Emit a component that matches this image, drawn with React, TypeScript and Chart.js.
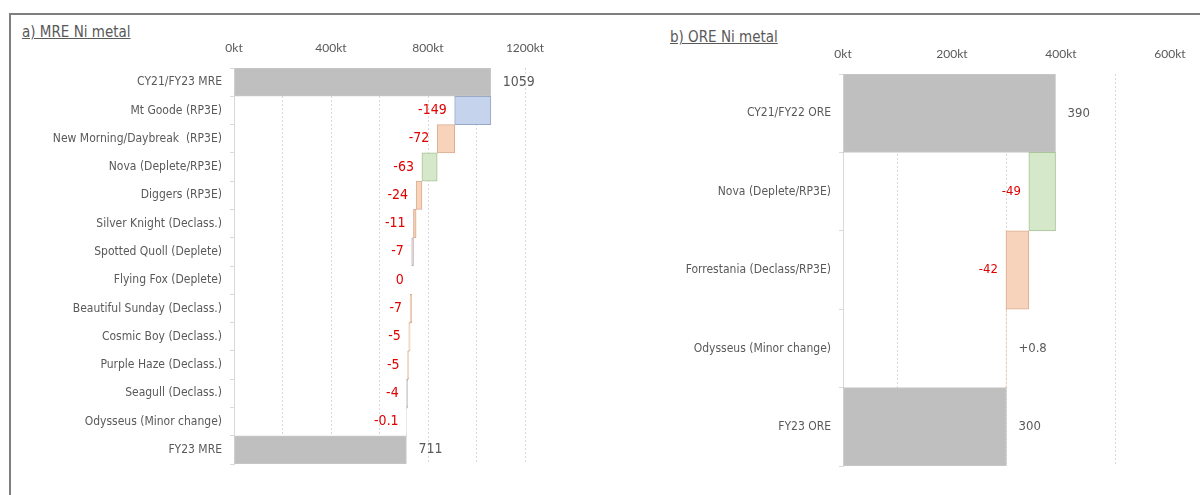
import React, { useEffect, useRef } from 'react';
import { Chart, registerables } from 'chart.js';

Chart.register(...registerables);

// ---------- Data: a) MRE Ni metal ----------
const mreCategories = [
  'CY21/FY23 MRE',
  'Mt Goode (RP3E)',
  'New Morning/Daybreak  (RP3E)',
  'Nova (Deplete/RP3E)',
  'Diggers (RP3E)',
  'Silver Knight (Declass.)',
  'Spotted Quoll (Deplete)',
  'Flying Fox (Deplete)',
  'Beautiful Sunday (Declass.)',
  'Cosmic Boy (Declass.)',
  'Purple Haze (Declass.)',
  'Seagull (Declass.)',
  'Odysseus (Minor change)',
  'FY23 MRE',
];
const mreOpening = 1059;
const mreChanges = [-149, -72, -63, -24, -11, -7, 0, -7, -5, -5, -4, -0.1];
const mreClosing = 711;
const mreChangeLabels = ['-149', '-72', '-63', '-24', '-11', '-7', '0', '-7', '-5', '-5', '-4', '-0.1'];
const mreTotalLabels = ['1059', '711'];
const mreChangeColors = ['blue', 'peach', 'green', 'peach', 'peach', 'greyPink', 'peach', 'peach', 'peach', 'peach', 'grey', 'grey'];
const mreTickValues = [0, 200, 400, 600, 800, 1000, 1200];
const mreTickLabels = ['0kt', '', '400kt', '', '800kt', '', '1200kt'];
const mreGridValues = [200, 400, 600, 800, 1000, 1200];

// ---------- Data: b) ORE Ni metal ----------
const oreCategories = [
  'CY21/FY22 ORE',
  'Nova (Deplete/RP3E)',
  'Forrestania (Declass/RP3E)',
  'Odysseus (Minor change)',
  'FY23 ORE',
];
const oreOpening = 390;
const oreChanges = [-49, -42, 0.8];
const oreClosing = 300;
const oreChangeLabels = ['-49', '-42', '+0.8'];
const oreTotalLabels = ['390', '300'];
const oreChangeColors = ['green', 'peach', 'peach'];
const oreTickValues = [0, 100, 200, 300, 400, 500, 600];
const oreTickLabels = ['0kt', '', '200kt', '', '400kt', '', '600kt'];
const oreGridValues = [100, 300, 500];

// ---------- Styles ----------
const NARROW = '"Liberation Sans Narrow", "Arial Narrow", "DejaVu Sans Condensed", sans-serif';
const TICKFONT = 'Lato, "Open Sans", sans-serif';
const GREY_TEXT = '#595959';
const RED_TEXT = '#e00000';
const PALETTE: Record<string, { fill: string; border: string }> = {
  total: { fill: '#bfbfbf', border: '#c9c9c9' },
  blue: { fill: '#c5d3ed', border: '#98a9c8' },
  peach: { fill: '#f8d3bb', border: '#d9ae92' },
  green: { fill: '#d5e8c9', border: '#a9c39a' },
  grey: { fill: '#d0cccc', border: '#a8a4a4' },
  greyPink: { fill: '#e0cccc', border: '#b8a4a8' },
};

type LabelItem = { text: string; color: string; side: 'left' | 'right' };

function buildWaterfall(opening: number, changes: number[], closing: number, changeLabels: string[], totalLabels: string[], changeColors: string[]) {
  const data: [number, number][] = [[0, opening]];
  const fills = [PALETTE.total.fill];
  const borders = [PALETTE.total.border];
  const labels: LabelItem[] = [{ text: totalLabels[0], color: GREY_TEXT, side: 'right' }];
  let level = opening;
  changes.forEach((c, i) => {
    const next = level + c;
    data.push([level, next]);
    fills.push(PALETTE[changeColors[i]].fill);
    borders.push(PALETTE[changeColors[i]].border);
    labels.push(c <= 0
      ? { text: changeLabels[i], color: RED_TEXT, side: 'left' }
      : { text: changeLabels[i], color: GREY_TEXT, side: 'right' });
    level = next;
  });
  data.push([0, closing]);
  fills.push(PALETTE.total.fill);
  borders.push(PALETTE.total.border);
  labels.push({ text: totalLabels[1], color: GREY_TEXT, side: 'right' });
  return { data, fills, borders, labels };
}

type ChartSpec = {
  categories: string[];
  opening: number;
  changes: number[];
  closing: number;
  changeLabels: string[];
  totalLabels: string[];
  changeColors: string[];
  tickValues: number[];
  tickLabels: string[];
  gridValues: number[];
  max: number;
  yWidth: number;
  padRight: number;
  padBottom: number;
  labelFontSize: number;
};

function makeChart(canvas: HTMLCanvasElement, spec: ChartSpec) {
  const wf = buildWaterfall(spec.opening, spec.changes, spec.closing, spec.changeLabels, spec.totalLabels, spec.changeColors);
  const labelPlugin = {
    id: 'wfLabels',
    afterDatasetsDraw(chart: any) {
      const { ctx } = chart;
      const x = chart.scales.x;
      const meta = chart.getDatasetMeta(0);
      ctx.save();
      ctx.font = `${spec.labelFontSize}px ${NARROW}`;
      ctx.textBaseline = 'middle';
      meta.data.forEach((el: any, i: number) => {
        const [a, b] = wf.data[i];
        const lo = Math.min(a, b);
        const hi = Math.max(a, b);
        const item = wf.labels[i];
        ctx.fillStyle = item.color;
        if (item.side === 'left') {
          ctx.textAlign = 'right';
          ctx.fillText(item.text, x.getPixelForValue(lo) - 8, el.y);
        } else {
          ctx.textAlign = 'left';
          ctx.fillText(item.text, x.getPixelForValue(hi) + 12, el.y);
        }
      });
      ctx.restore();
    },
  };

  return new Chart(canvas, {
    type: 'bar',
    data: {
      labels: spec.categories,
      datasets: [
        {
          data: wf.data as any,
          backgroundColor: wf.fills,
          borderColor: wf.borders,
          borderWidth: 1,
          borderSkipped: false,
          barPercentage: 1,
          categoryPercentage: 1,
        },
      ],
    },
    plugins: [labelPlugin],
    options: {
      indexAxis: 'y',
      animation: false,
      responsive: false,
      devicePixelRatio: 1,
      layout: { padding: { left: 0, right: spec.padRight, top: 0, bottom: spec.padBottom } },
      plugins: {
        legend: { display: false },
        tooltip: { enabled: false },
        title: { display: false },
      },
      scales: {
        x: {
          type: 'linear',
          position: 'top',
          min: 0,
          max: spec.max,
          afterBuildTicks: (s: any) => {
            s.ticks = spec.tickValues.map((v) => ({ value: v }));
          },
          afterFit: (s: any) => {
            s.height = 28;
          },
          ticks: {
            autoSkip: false,
            maxRotation: 0,
            padding: 13,
            color: GREY_TEXT,
            font: { family: TICKFONT, size: 12 },
            callback: (_v: any, i: number) => spec.tickLabels[i],
          },
          grid: {
            display: true,
            drawTicks: false,
            drawOnChartArea: true,
            lineWidth: 1,
            color: (ctx: any) =>
              ctx.tick && spec.gridValues.includes(ctx.tick.value) ? '#d9d9d9' : 'rgba(0,0,0,0)',
          },
          border: { display: false, dash: [2, 2] },
        },
        y: {
          type: 'category',
          position: 'left',
          offset: true,
          afterFit: (s: any) => {
            s.width = spec.yWidth;
          },
          ticks: {
            autoSkip: false,
            padding: 8,
            color: GREY_TEXT,
            font: { family: NARROW, size: 12 },
          },
          grid: {
            display: true,
            offset: true,
            drawOnChartArea: false,
            drawTicks: true,
            tickLength: 4,
            color: '#d9d9d9',
          },
          border: { display: true, color: '#d9d9d9', width: 1 },
        },
      },
    } as any,
  });
}

const mreSpec: ChartSpec = {
  categories: mreCategories,
  opening: mreOpening,
  changes: mreChanges,
  closing: mreClosing,
  changeLabels: mreChangeLabels,
  totalLabels: mreTotalLabels,
  changeColors: mreChangeColors,
  tickValues: mreTickValues,
  tickLabels: mreTickLabels,
  gridValues: mreGridValues,
  max: 1200,
  yWidth: 224,
  padRight: 65,
  padBottom: 16,
  labelFontSize: 14,
};

const oreSpec: ChartSpec = {
  categories: oreCategories,
  opening: oreOpening,
  changes: oreChanges,
  closing: oreClosing,
  changeLabels: oreChangeLabels,
  totalLabels: oreTotalLabels,
  changeColors: oreChangeColors,
  tickValues: oreTickValues,
  tickLabels: oreTickLabels,
  gridValues: oreGridValues,
  max: 600,
  yWidth: 223,
  padRight: 30,
  padBottom: 20,
  labelFontSize: 13,
};

function WaterfallCanvas({ spec, left, top, width, height }: { spec: ChartSpec; left: number; top: number; width: number; height: number }) {
  const ref = useRef<HTMLCanvasElement | null>(null);
  useEffect(() => {
    if (!ref.current) return;
    const chart = makeChart(ref.current, spec);
    return () => chart.destroy();
  }, [spec]);
  return (
    <canvas
      ref={ref}
      width={width}
      height={height}
      style={{ position: 'absolute', left, top, width, height }}
    />
  );
}

const titleStyle: React.CSSProperties = {
  position: 'absolute',
  fontFamily: NARROW,
  fontSize: 15,
  lineHeight: '15px',
  color: GREY_TEXT,
  textDecoration: 'underline',
  whiteSpace: 'nowrap',
};

export default function App() {
  return (
    <div style={{ position: 'absolute', left: 0, top: 0, width: 1200, height: 495, overflow: 'hidden', background: '#ffffff' }}>
      <div
        style={{
          position: 'absolute',
          left: 9,
          top: 13,
          width: 1220,
          height: 520,
          borderLeft: '2px solid #7f7f7f',
          borderTop: '2px solid #7f7f7f',
        }}
      />
      <div style={{ ...titleStyle, left: 22, top: 25 }}>a) MRE Ni metal</div>
      <div style={{ ...titleStyle, left: 670, top: 30 }}>b) ORE Ni metal</div>
      <WaterfallCanvas spec={mreSpec} left={10} top={40} width={580} height={440} />
      <WaterfallCanvas spec={oreSpec} left={620} top={46} width={580} height={440} />
    </div>
  );
}
